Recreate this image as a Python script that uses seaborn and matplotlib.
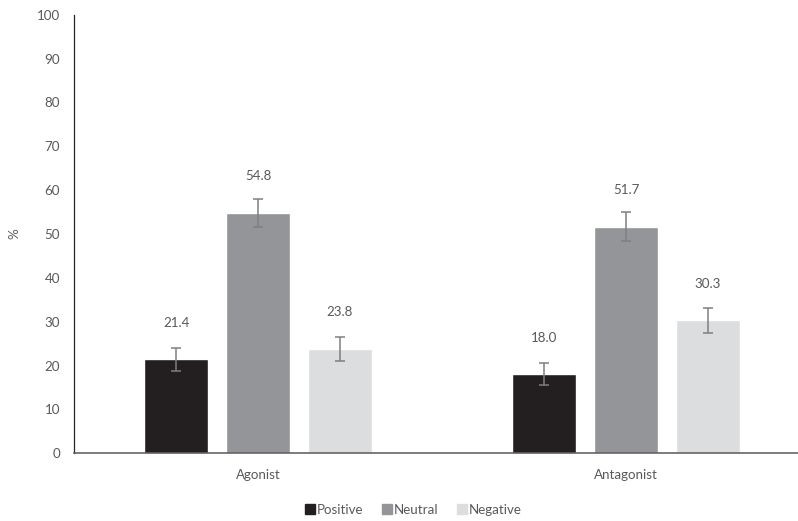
import matplotlib
matplotlib.use("Agg")
import matplotlib.pyplot as plt
import seaborn as sns
import pandas as pd
from matplotlib.lines import Line2D

categories = ["Agonist", "Antagonist"]
series = ["Positive", "Neutral", "Negative"]
positive = [21.4, 18.0]
neutral = [54.8, 51.7]
negative = [23.8, 30.3]
positive_err = [2.7, 2.5]
neutral_err = [3.2, 3.3]
negative_err = [2.8, 2.8]
y_ticks = [0, 10, 20, 30, 40, 50, 60, 70, 80, 90, 100]

colors = ["#231f20", "#939598", "#dcdddf"]
text_color = "#595959"
fs = 9.6

rows = []
for s, vals, errs in zip(series, [positive, neutral, negative],
                         [positive_err, neutral_err, negative_err]):
    for c, v, e in zip(categories, vals, errs):
        rows.append({"category": c, "series": s, "value": v, "err": e})
df = pd.DataFrame(rows)

sns.set_style("white")
plt.rcParams["font.family"] = ["Lato", "DejaVu Sans"]

fig = plt.figure(figsize=(7.98, 5.21), dpi=100)
ax = fig.add_axes([74 / 798, (521 - 453.3) / 521, 736 / 798, (453.3 - 14.7) / 521])

sns.barplot(data=df, x="category", y="value", hue="series", order=categories,
            hue_order=series, palette=colors, width=0.668, gap=0.22,
            errorbar=None, saturation=1, legend=False, ax=ax)

# error bars and labels, using bar geometry from seaborn
for patch in ax.patches:
    h = patch.get_height()
    xc = patch.get_x() + patch.get_width() / 2
    match = df[(df["value"] - h).abs() < 1e-9].iloc[0]
    ax.errorbar(xc, h, yerr=match["err"], fmt="none", ecolor="#7f7f7f",
                elinewidth=1.1, capsize=3.5, capthick=1.1, zorder=5)
    ax.annotate(f"{h:.1f}", (xc, h), xytext=(0, 26.5), textcoords="offset points",
                ha="center", va="center", fontsize=fs, color=text_color)

ax.set_xlim(-0.5, 1.5)
ax.set_ylim(0, 100)
ax.set_yticks(y_ticks)
ax.tick_params(axis="both", length=0, labelsize=fs, labelcolor=text_color)
ax.tick_params(axis="x", pad=11)
ax.tick_params(axis="y", pad=10)
ax.set_xlabel("")
ax.set_ylabel("%", fontsize=fs, color=text_color)
ax.yaxis.set_label_coords(-54 / 736, 0.5)
for side in ["top", "right"]:
    ax.spines[side].set_visible(False)
ax.spines["left"].set_color("#262626")
ax.spines["bottom"].set_color("#595959")
ax.spines["left"].set_linewidth(0.9)
ax.spines["bottom"].set_linewidth(1.1)

handles = [Line2D([], [], marker="s", linestyle="none", markersize=6.5,
                  markerfacecolor=c, markeredgecolor=c) for c in colors]
fig.legend(handles, series, loc="center", bbox_to_anchor=(413 / 798, 1 - 510 / 521),
           ncol=3, frameon=False, fontsize=fs, labelcolor=text_color,
           handletextpad=0.1, columnspacing=1.4, handlelength=0.8)

fig.savefig("out.png", dpi=100)
